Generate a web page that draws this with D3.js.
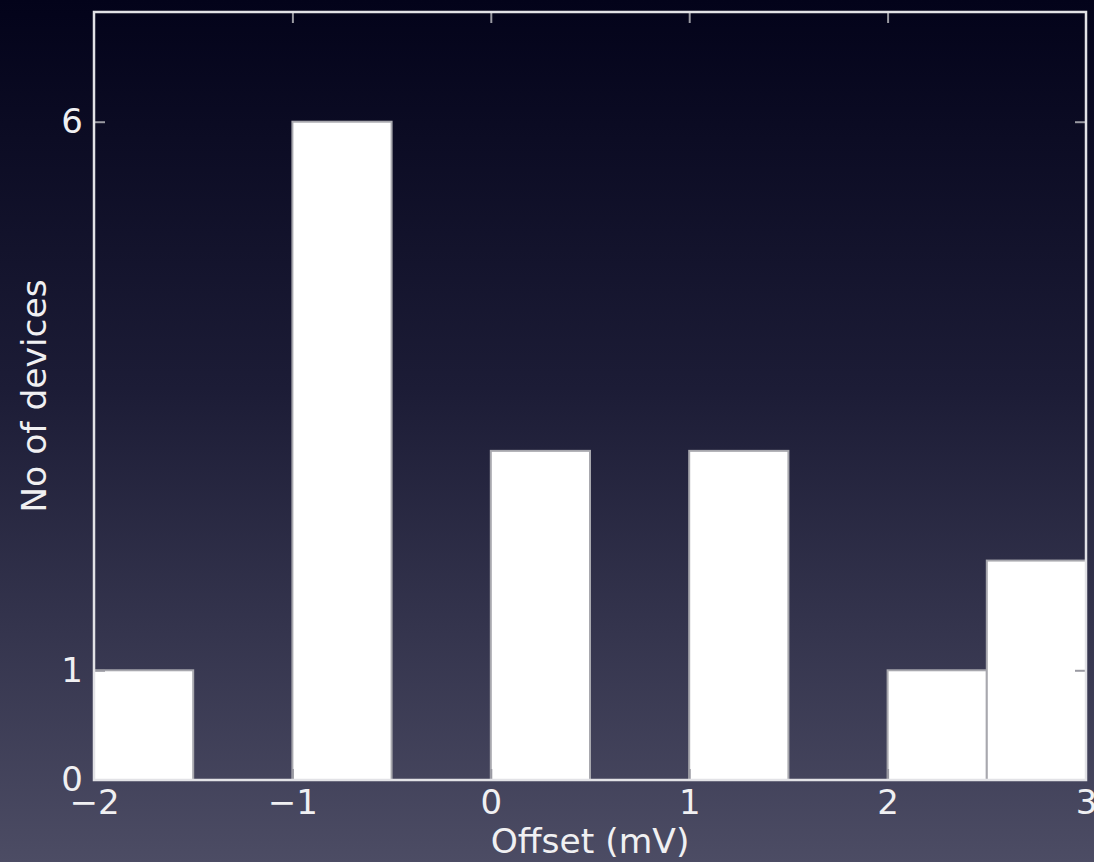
<!DOCTYPE html>
<html lang="en">
    <head>
        <meta charset="utf-8">
        <title>Offset histogram</title>
        <script type="text/javascript" src="https://d3js.org/d3.v7.min.js"></script>
        <style type="text/css">
            body { margin: 0; background: #050518; }
            .bar { fill: #ffffff; stroke: #a8a8ae; stroke-width: 2; }
            .frame { fill: none; stroke: #e2e2e6; stroke-width: 2.5; }
            .axis text { font-family: "DejaVu Sans", sans-serif; font-size: 34px; fill: #f0f0f2; }
            .axis line { stroke: #9a9aa2; stroke-width: 2; }
            .label { font-family: "DejaVu Sans", sans-serif; font-size: 34.5px; fill: #f0f0f2; }
        </style>
    </head>
    <body>
        <script type="text/javascript">
            var w = 1094;
            var h = 862;
            var margin = { left: 94, right: 8, top: 12, bottom: 82 };

            // histogram bins (mV), width 0.5
            var binStarts = [-2, -1.5, -1, -0.5, 0, 0.5, 1, 1.5, 2, 2.5];
            var counts    = [ 1,    0,  6,    0, 3,   0, 3,   0, 1,   2];
            var binWidth = 0.5;
            var xTicks = [-2, -1, 0, 1, 2, 3];
            var yTicks = [0, 1, 6];

            var svg = d3.select("body").append("svg")
                .attr("width", w)
                .attr("height", h);

            // fondo degradado
            var grad = svg.append("defs").append("linearGradient")
                .attr("id", "bg").attr("x1", 0).attr("y1", 0).attr("x2", 0).attr("y2", 1);
            grad.append("stop").attr("offset", "0%").attr("stop-color", "#03031a");
            grad.append("stop").attr("offset", "45%").attr("stop-color", "#1c1c36");
            grad.append("stop").attr("offset", "100%").attr("stop-color", "#4c4c64");
            svg.append("rect").attr("width", w).attr("height", h).attr("fill", "url(#bg)");

            var xScale = d3.scaleLinear().domain([-2, 3]).range([margin.left, w - margin.right]);
            var yScale = d3.scaleLinear().domain([0, 7]).range([h - margin.bottom, margin.top]);

            // barras
            svg.selectAll(".bar")
                .data(binStarts.map(function(d, i) { return { x0: d, n: counts[i] }; })
                               .filter(function(d) { return d.n > 0; }))
                .enter().append("rect")
                .attr("class", "bar")
                .attr("x", function(d) { return xScale(d.x0); })
                .attr("width", function(d) { return xScale(d.x0 + binWidth) - xScale(d.x0); })
                .attr("y", function(d) { return yScale(d.n); })
                .attr("height", function(d) { return yScale(0) - yScale(d.n); });

            var fmt = d3.format("d");

            // ejes (marcas hacia dentro)
            var gBottom = svg.append("g").attr("class", "axis")
                .attr("transform", "translate(0," + (h - margin.bottom) + ")")
                .call(d3.axisBottom(xScale).tickValues(xTicks).tickFormat(fmt).tickSizeInner(-11).tickPadding(10).tickSizeOuter(0));
            var gTop = svg.append("g").attr("class", "axis")
                .attr("transform", "translate(0," + margin.top + ")")
                .call(d3.axisTop(xScale).tickValues(xTicks).tickFormat("").tickSizeInner(-11).tickSizeOuter(0));
            var gLeft = svg.append("g").attr("class", "axis")
                .attr("transform", "translate(" + margin.left + ",0)")
                .call(d3.axisLeft(yScale).tickValues(yTicks).tickFormat(fmt).tickSizeInner(-11).tickPadding(11).tickSizeOuter(0));
            var gRight = svg.append("g").attr("class", "axis")
                .attr("transform", "translate(" + (w - margin.right) + ",0)")
                .call(d3.axisRight(yScale).tickValues(yTicks).tickFormat("").tickSizeInner(-11).tickSizeOuter(0));
            svg.selectAll(".axis .domain").remove();
            // sin marcas en las esquinas
            gBottom.selectAll(".tick line").filter(function(d) { return d === -2 || d === 3; }).remove();
            gTop.selectAll(".tick line").filter(function(d) { return d === -2 || d === 3; }).remove();
            gLeft.selectAll(".tick line").filter(function(d) { return d === 0; }).remove();
            gRight.selectAll(".tick line").filter(function(d) { return d === 0; }).remove();

            // marco
            svg.append("rect").attr("class", "frame")
                .attr("x", margin.left).attr("y", margin.top)
                .attr("width", w - margin.left - margin.right)
                .attr("height", h - margin.top - margin.bottom);

            // etiquetas
            svg.append("text").attr("class", "label")
                .attr("x", xScale(0.5)).attr("y", 853)
                .attr("text-anchor", "middle")
                .text("Offset (mV)");
            svg.append("text").attr("class", "label")
                .attr("transform", "translate(46," + yScale(3.5) + ") rotate(-90)")
                .attr("text-anchor", "middle")
                .text("No of devices");
        </script>
    </body>
</html>
